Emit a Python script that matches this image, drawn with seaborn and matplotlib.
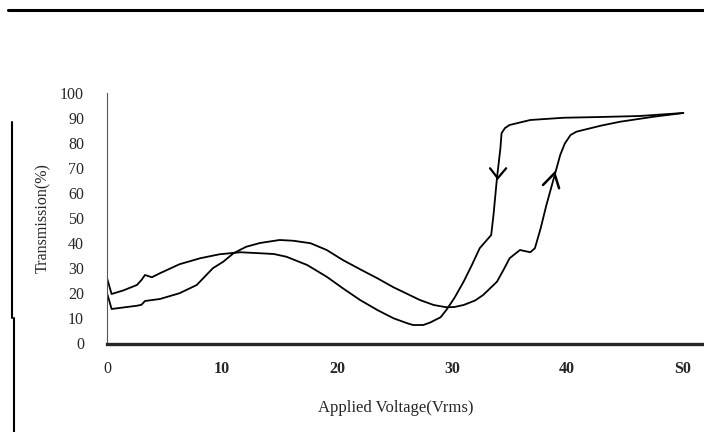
import matplotlib
matplotlib.use("Agg")
import matplotlib.pyplot as plt
from matplotlib.lines import Line2D
import seaborn as sns
import pandas as pd

# increasing-voltage branch (lower start, up arrow)
volt_up = [0, 0.4, 1.4, 2.6, 3.0, 3.3, 4.6, 6.3, 7.8, 9.2, 10.1, 11.0, 12.1, 13.3,
           15.0, 16.2, 17.7, 19.1, 20.5, 22.0, 23.5, 24.9, 26.3, 27.2, 28.4, 29.5, 30.2,
           31.0, 32.0, 32.7, 33.9, 34.5, 35.0, 35.9, 36.8, 37.2, 37.7, 38.2, 39.0, 39.4,
           39.8, 40.3, 40.8, 41.4, 43.0, 44.6, 47.5, 50.1]
trans_up = [20.0, 13.6, 14.2, 14.9, 15.3, 16.8, 17.6, 19.9, 23.2, 29.9, 32.5, 35.9, 38.5, 40.0,
            41.2, 40.9, 39.9, 37.2, 33.2, 29.5, 25.9, 22.3, 19.2, 17.2, 15.2, 14.3, 14.4,
            15.2, 17.0, 19.2, 24.5, 29.5, 33.9, 37.2, 36.3, 37.9, 45.9, 55.2, 68.5, 75.2,
            79.8, 83.2, 84.5, 85.2, 87.0, 88.5, 90.5, 92.0]

# decreasing-voltage branch (upper start, down arrow)
volt_down = [0, 0.4, 1.4, 2.6, 3.0, 3.3, 3.9, 4.6, 6.3, 8.1, 9.8, 11.6, 13.3, 14.5, 15.6,
             17.4, 19.1, 20.5, 22.0, 23.5, 24.9, 26.1, 26.6, 27.5, 28.1, 29.0, 29.5, 30.2,
             31.0, 31.7, 32.4, 33.4, 33.6, 33.9, 34.2, 34.3, 34.6, 35.0, 36.8, 39.7, 42.9,
             46.3, 50.1]
trans_down = [26.0, 19.6, 21.0, 23.2, 25.2, 27.2, 26.3, 27.9, 31.5, 33.9, 35.5, 36.3, 35.9, 35.6, 34.5,
              31.2, 26.5, 21.9, 17.2, 13.2, 9.9, 7.9, 7.2, 7.2, 8.2, 10.3, 13.2, 18.0,
              24.5, 31.0, 37.9, 43.2, 51.2, 65.9, 77.9, 83.9, 86.0, 87.2, 89.2, 90.1, 90.4,
              90.8, 92.0]

# arrow heads
arrow_down_x = [33.3, 33.97, 34.7]
arrow_down_y = [69.9, 65.9, 69.9]
arrow_up_x = [37.9, 38.9, 39.3]
arrow_up_y = [63.2, 67.9, 61.9]

x_ticks = [0, 10, 20, 30, 40, 50]
x_tick_labels = ["0", "10", "20", "30", "40", "S0"]
y_ticks = [0, 10, 20, 30, 40, 50, 60, 70, 80, 90, 100]

sns.set_style("white")
plt.rcParams["font.family"] = ["Liberation Serif", "DejaVu Serif"]

fig = plt.figure(figsize=(7.04, 4.32), dpi=100)
ax = fig.add_axes([107 / 704, 1 - 343 / 432, (704 - 107) / 704, 250 / 432])

df_up = pd.DataFrame({"v": volt_up, "t": trans_up})
df_down = pd.DataFrame({"v": volt_down, "t": trans_down})
sns.lineplot(data=df_up, x="v", y="t", sort=False, color="black", lw=1.3, ax=ax, estimator=None)
sns.lineplot(data=df_down, x="v", y="t", sort=False, color="black", lw=1.3, ax=ax, estimator=None)
ax.plot(arrow_down_x, arrow_down_y, color="black", lw=1.6, solid_joinstyle="miter")
ax.plot(arrow_up_x, arrow_up_y, color="black", lw=1.8, solid_joinstyle="miter")

for s in ["top", "right"]:
    ax.spines[s].set_visible(False)
ax.spines["bottom"].set_position(("outward", 1))
ax.spines["left"].set_linewidth(0.8)
ax.spines["left"].set_color("#555555")
ax.spines["bottom"].set_linewidth(2.4)

ax.set_xlim(0, 51.9)
ax.set_ylim(0, 100)
ax.set_yticks(y_ticks)
ax.tick_params(axis="x", length=0, pad=12)
ax.tick_params(axis="y", direction="inout", length=5, width=0.8, pad=14, labelsize=11.5)
ax.set_xticks(x_ticks, labels=x_tick_labels, fontweight="bold", fontsize=11.5)
ax.get_xticklabels()[0].set_fontweight("normal")

ax.set_xlabel("Applied Voltage(Vrms)", fontsize=12)
ax.set_ylabel("Transmission(%)", fontsize=11.5)
ax.xaxis.set_label_coords(0.484, -0.23)
ax.yaxis.set_label_coords(-0.093, 0.5)

# scan border decorations
fig.add_artist(Line2D([8 / 704, 1.0], [1 - 10 / 432] * 2, color="black", lw=2.2))
fig.add_artist(Line2D([12 / 704] * 2, [1 - 122 / 432, 1 - 318 / 432], color="black", lw=1.5))
fig.add_artist(Line2D([14 / 704] * 2, [1 - 318 / 432, 0], color="black", lw=1.5))

fig.savefig("out.png", dpi=100)
